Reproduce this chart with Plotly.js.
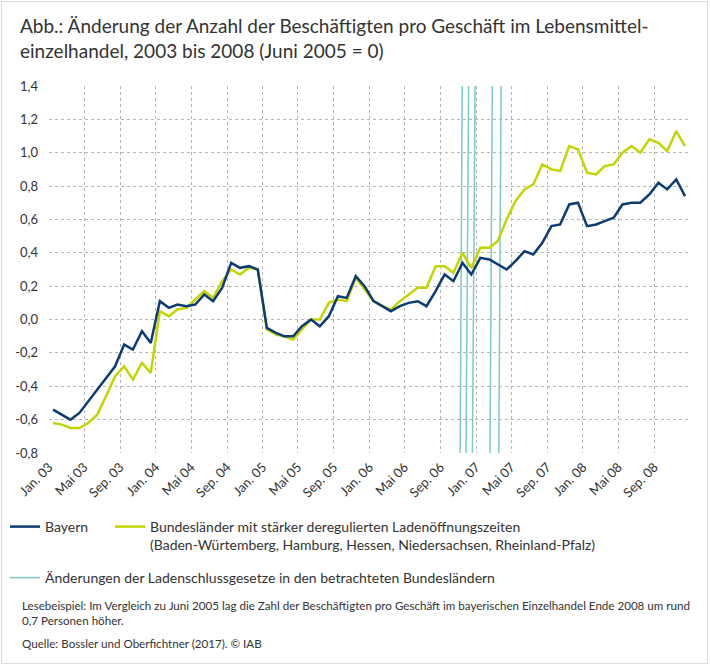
<!DOCTYPE html>
<html>
<head>
<meta charset="utf-8">
<script src="https://cdn.plot.ly/plotly-3.0.1.min.js"></script>
<style>
  body { margin: 0; background: #fff; }
  #chart { position: absolute; left: 0; top: 0; width: 711px; height: 665px; }
  #frame { position: absolute; left: 1px; top: 1px; width: 705px; height: 661px;
           border: 1.5px solid #d9d9d9; pointer-events: none; }
</style>
</head>
<body>
<div id="chart"></div>
<div id="frame"></div>
<script>
// monthly values Jan 2003 - Dec 2008, change vs. June 2005
var bayern = [-0.54, -0.57, -0.60, -0.56, -0.49, -0.42, -0.35, -0.28, -0.15, -0.18, -0.07, -0.14,
              0.11, 0.07, 0.09, 0.08, 0.09, 0.15, 0.11, 0.19, 0.34, 0.31, 0.32, 0.30,
              -0.05, -0.08, -0.10, -0.10, -0.04, 0.00, -0.04, 0.02, 0.14, 0.13, 0.26, 0.20,
              0.11, 0.08, 0.05, 0.08, 0.10, 0.11, 0.08, 0.17, 0.27, 0.23, 0.34, 0.27,
              0.37, 0.36, 0.33, 0.30, 0.35, 0.41, 0.39, 0.46, 0.56, 0.57, 0.69, 0.70,
              0.56, 0.57, 0.59, 0.61, 0.69, 0.70, 0.70, 0.75, 0.82, 0.78, 0.84, 0.74];

var dereguliert = [-0.62, -0.63, -0.65, -0.65, -0.62, -0.57, -0.46, -0.34, -0.28, -0.36, -0.26, -0.32,
                   0.05, 0.02, 0.06, 0.07, 0.12, 0.17, 0.13, 0.23, 0.30, 0.27, 0.31, 0.30,
                   -0.06, -0.09, -0.10, -0.12, -0.06, 0.00, 0.00, 0.10, 0.12, 0.11, 0.25, 0.18,
                   0.11, 0.08, 0.06, 0.11, 0.15, 0.19, 0.19, 0.32, 0.32, 0.28, 0.40, 0.31,
                   0.43, 0.43, 0.47, 0.60, 0.71, 0.78, 0.81, 0.93, 0.90, 0.89, 1.04, 1.02,
                   0.88, 0.87, 0.92, 0.93, 1.00, 1.04, 1.00, 1.08, 1.06, 1.01, 1.13, 1.04];

// law changes (drawn as slightly slanted lines: date at bottom, date at top)
var lawStart = ['2006-11-07', '2006-11-27', '2006-12-19', '2007-02-17', '2007-03-19'];
var lawEnd   = ['2006-11-14', '2006-12-06', '2006-12-28', '2007-02-25', '2007-03-27'];

var tickDates = ['2003-01-01', '2003-05-01', '2003-09-01', '2004-01-01', '2004-05-01', '2004-09-01',
                 '2005-01-01', '2005-05-01', '2005-09-01', '2006-01-01', '2006-05-01', '2006-09-01',
                 '2007-01-01', '2007-05-01', '2007-09-01', '2008-01-01', '2008-05-01', '2008-09-01',
                 '2009-01-01'];
var tickLabels = ['Jan. 03', 'Mai 03', 'Sep. 03', 'Jan. 04', 'Mai 04', 'Sep. 04',
                  'Jan. 05', 'Mai 05', 'Sep. 05', 'Jan. 06', 'Mai 06', 'Sep. 06',
                  'Jan. 07', 'Mai 07', 'Sep. 07', 'Jan. 08', 'Mai 08', 'Sep. 08', ''];

var yTicks = [-0.8, -0.6, -0.4, -0.2, 0, 0.2, 0.4, 0.6, 0.8, 1.0, 1.2, 1.4];
var yLabels = ['-0,8', '-0,6', '-0,4', '-0,2', '0,0', '0,2', '0,4', '0,6', '0,8', '1,0', '1,2', '1,4'];

var months = [];
for (var y = 2003; y <= 2008; y++) {
  for (var m = 1; m <= 12; m++) {
    months.push(y + '-' + (m < 10 ? '0' + m : m) + '-15');
  }
}

var lawX = [], lawY = [];
for (var i = 0; i < lawStart.length; i++) {
  lawX.push(lawStart[i], lawEnd[i], null);
  lawY.push(-0.8, 1.4, null);
}

var font = 'Lato, "Open Sans", sans-serif';
var textColor = '#333333';

var trace1 = {
  x: months,
  y: bayern,
  name: 'Bayern',
  type: 'scatter',
  mode: 'lines',
  line: { color: '#0b3c73', width: 2.5 },
  legend: 'legend'
};

var trace2 = {
  x: months,
  y: dereguliert,
  name: 'Bundesländer mit stärker deregulierten Ladenöffnungszeiten<br>(Baden-Würtemberg, Hamburg, Hessen, Niedersachsen, Rheinland-Pfalz)',
  type: 'scatter',
  mode: 'lines',
  line: { color: '#c4d400', width: 2.5 },
  legend: 'legend3'
};

var trace3 = {
  x: lawX,
  y: lawY,
  name: 'Änderungen der Ladenschlussgesetze in den betrachteten Bundesländern',
  type: 'scatter',
  mode: 'lines',
  line: { color: '#7ccaca', width: 1.5 },
  legend: 'legend2'
};

var data = [trace3, trace2, trace1];

// plot area in px, used to place footnotes
var plotL = 49, plotR = 690, plotT = 86, plotB = 453;
function px(x) { return (x - plotL) / (plotR - plotL); }
function py(y) { return (plotB - y) / (plotB - plotT); }

function legendAt(left, top) {
  return {
    orientation: 'h',
    xref: 'container', yref: 'container',
    x: left / 711, xanchor: 'left',
    y: 1 - top / 665, yanchor: 'top',
    valign: 'top',
    font: { family: font, size: 14, color: textColor },
    bgcolor: 'rgba(0,0,0,0)'
  };
}

var layout = {
  width: 711,
  height: 665,
  margin: { l: plotL, r: 711 - plotR, t: plotT, b: 665 - plotB },
  paper_bgcolor: 'rgba(0,0,0,0)',
  plot_bgcolor: '#fff',
  font: { family: font, color: textColor },
  title: {
    text: 'Abb.: Änderung der Anzahl der Beschäftigten pro Geschäft im Lebensmittel-<br>einzelhandel, 2003 bis 2008 (Juni 2005 = 0)',
    font: { family: font, size: 19, color: textColor },
    xref: 'container', yref: 'container',
    x: 20 / 711, xanchor: 'left',
    y: 1 - 33 / 665, yanchor: 'top'
  },
  xaxis: {
    type: 'date',
    range: ['2003-01-01', '2009-01-01'],
    tickmode: 'array',
    tickvals: tickDates,
    ticktext: tickLabels,
    tickangle: -45,
    tickfont: { size: 13, color: textColor },
    ticklabelstandoff: 3,
    showgrid: true,
    gridcolor: '#b5b5b5',
    griddash: 'dot',
    gridwidth: 1,
    zeroline: false,
    showline: false,
    ticks: ''
  },
  yaxis: {
    range: [-0.8, 1.4],
    tickmode: 'array',
    tickvals: yTicks,
    ticktext: yLabels,
    tickfont: { size: 13, color: textColor },
    ticklabelstandoff: 10,
    showgrid: true,
    gridcolor: '#b5b5b5',
    griddash: 'dot',
    gridwidth: 1,
    zeroline: false,
    showline: false,
    ticks: ''
  },
  showlegend: true,
  legend: legendAt(5, 511),
  legend3: legendAt(110, 511),
  legend2: legendAt(5, 562),
  annotations: [
    {
      xref: 'paper', yref: 'paper', x: px(20), y: py(597),
      xanchor: 'left', yanchor: 'top', align: 'left', showarrow: false,
      text: 'Lesebeispiel: Im Vergleich zu Juni 2005 lag die Zahl der Beschäftigten pro Geschäft im bayerischen Einzelhandel Ende 2008 um rund<br>0,7 Personen höher.',
      font: { family: font, size: 11.6, color: textColor }
    },
    {
      xref: 'paper', yref: 'paper', x: px(20), y: py(635),
      xanchor: 'left', yanchor: 'top', align: 'left', showarrow: false,
      text: 'Quelle: Bossler und Oberfichtner (2017). © IAB',
      font: { family: font, size: 11.6, color: textColor }
    }
  ]
};

var config = { staticPlot: true };

Plotly.newPlot('chart', data, layout, config);
</script>
</body>
</html>
